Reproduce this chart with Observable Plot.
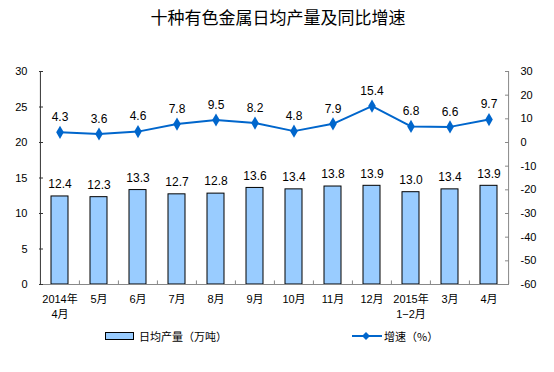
<!DOCTYPE html>
<html><head><meta charset="utf-8">
<script src="https://cdn.jsdelivr.net/npm/d3@7"></script>
<script src="https://cdn.jsdelivr.net/npm/@observablehq/plot@0.6"></script>
<style>
body{margin:0;background:#fff;width:554px;height:372px;position:relative;overflow:hidden;font-family:"Liberation Sans",Arial,"Noto Sans CJK SC",sans-serif;}
#title{position:absolute;left:0;width:556px;top:6px;text-align:center;font-family:"Noto Sans CJK SC",sans-serif;font-size:17px;line-height:22px;color:#000;}
#chart{position:absolute;left:0;top:35px;}
#legend{position:absolute;left:0;top:326px;width:554px;height:20px;font-family:"Noto Sans CJK SC",sans-serif;font-size:11px;color:#000;}
.item{position:absolute;top:0;height:20px;display:flex;align-items:center;}
</style></head><body>
<div id="title">十种有色金属日均产量及同比增速</div>
<div id="chart"></div>
<div id="legend">
  <div class="item" style="left:104px"><svg width="32" height="10"><rect x="1.5" y="1.5" width="28" height="7" fill="#99CCFF" stroke="#000" stroke-width="1"/></svg><span style="margin-left:3px">日均产量（万吨）</span></div>
  <div class="item" style="left:351px"><svg width="32" height="10"><line x1="1" y1="5" x2="31" y2="5" stroke="#0066CC" stroke-width="2"/><path d="M15,1 L19,5 L15,9 L11,5 Z" fill="#0066CC"/></svg><span style="margin-left:1px">增速（%）</span></div>
</div>
<script>
const months = ["2014年\n4月","5月","6月","7月","8月","9月","10月","11月","12月","2015年\n1−2月","3月","4月"];
const output = [12.4, 12.3, 13.3, 12.7, 12.8, 13.6, 13.4, 13.8, 13.9, 13.0, 13.4, 13.9];
const growth = [4.3, 3.6, 4.6, 7.8, 9.5, 8.2, 4.8, 7.9, 15.4, 6.8, 6.6, 9.7];
const leftTicks = [0, 5, 10, 15, 20, 25, 30];
const rightTicks = [-60, -50, -40, -30, -20, -10, 0, 10, 20, 30];

const data = months.map((m, i) => ({month: m, output: output[i], growth: growth[i]}));
// right axis (-60..30) mapped onto the left scale (0..30)
const toLeft = g => (g + 60) / 3;

const W = 554, ML = 39, MR = 45;
const plotW = W - ML - MR;
const step = plotW / months.length;
const font = '"Liberation Sans", Arial, sans-serif';

const chart = Plot.plot({
  width: W, height: 290,
  marginTop: 36, marginBottom: 41, marginLeft: ML, marginRight: MR,
  style: {fontFamily: font, fontSize: "11px", background: "#fff", color: "#000", overflow: "visible"},
  x: {domain: months, padding: 0, label: null},
  y: {domain: [0, 30], label: null},
  marks: [
    Plot.barY(data, {x: "month", y: "output", fill: "#99CCFF", stroke: "#000", strokeWidth: 1, insetLeft: 11, insetRight: 11}),
    // frame lines
    Plot.ruleY([0], {stroke: "#888", strokeWidth: 1}),
    Plot.ruleX(months.slice(0, 1), {x: d => d, y1: 0, y2: 30, dx: -step / 2, stroke: "#333"}),
    Plot.ruleX(months.slice(-1), {x: d => d, y1: 0, y2: 30, dx: step / 2, stroke: "#888"}),
    // bottom ticks between categories
    Plot.ruleX(months.slice(1), {x: d => d, y1: 0, y2: 0.5, dx: -step / 2, stroke: "#888"}),
    Plot.ruleX(months.slice(-1), {x: d => d, y1: 0, y2: 0.5, dx: step / 2, stroke: "#888"}),
    // left ticks (inward)
    Plot.ruleY(leftTicks, {y: d => d, insetRight: plotW - 4, stroke: "#333"}),
    // right ticks (inward)
    Plot.ruleY(rightTicks, {y: d => toLeft(d), insetLeft: plotW - 4, stroke: "#888"}),
    Plot.axisY({anchor: "left", ticks: leftTicks, tickSize: 0, tickPadding: 12, fontSize: 11, fontFamily: font, label: null}),
    Plot.axisY({anchor: "right", ticks: rightTicks.map(toLeft), tickFormat: d => String(Math.round(d * 3 - 60)), tickSize: 0, tickPadding: 11, fontSize: 11, fontFamily: font, label: null}),
    Plot.axisX({tickSize: 0, tickPadding: 8, fontSize: 11, fontFamily: '"Liberation Sans", "Noto Sans CJK SC", sans-serif', lineHeight: 1.35, label: null}),
    // growth line
    Plot.line(data, {x: "month", y: d => toLeft(d.growth), stroke: "#0066CC", strokeWidth: 2}),
    Plot.dot(data, {x: "month", y: d => toLeft(d.growth), symbol: "diamond", r: 4, fill: "#0066CC", stroke: "none"}),
    // labels
    Plot.text(data, {x: "month", y: "output", text: d => d.output.toFixed(1), dy: -12, fontSize: 12, fontFamily: font, fill: "#000"}),
    Plot.text(data, {x: "month", y: d => toLeft(d.growth), text: d => d.growth.toFixed(1), dy: -15, fontSize: 12, fontFamily: font, fill: "#000"})
  ]
});
document.getElementById("chart").appendChild(chart);
</script>
</body></html>
